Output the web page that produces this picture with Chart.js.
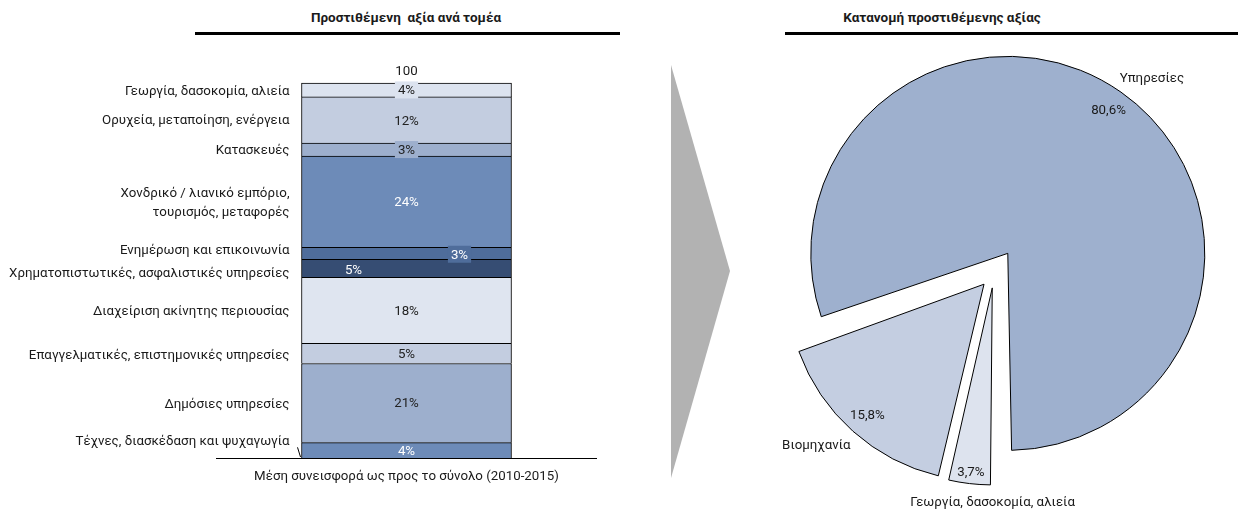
<!DOCTYPE html>
<html>
<head>
<meta charset="utf-8">
<script src="https://cdn.jsdelivr.net/npm/chart.js@4"></script>
<style>
  body { margin: 0; background: #fff; }
  #wrap { position: relative; width: 1249px; height: 522px; overflow: hidden; font-family: Roboto, sans-serif; color: #1a1a1a; }
  .title { position: absolute; top: 9px; font-size: 13.5px; font-weight: bold; text-align: center; white-space: pre; }
  .rule { position: absolute; top: 32px; height: 3px; background: #000; }
  canvas, svg { position: absolute; }
</style>
</head>
<body>
<div id="wrap">
  <div class="title" style="left:256px;width:300px">Προστιθέμενη  αξία ανά τομέα</div>
  <div class="rule" style="left:195px;width:425px"></div>
  <div class="title" style="left:792px;width:300px">Κατανομή προστιθέμενης αξίας</div>
  <div class="rule" style="left:785px;width:453px"></div>
  <canvas id="bars" width="640" height="522" style="left:0;top:0"></canvas>
  <svg width="80" height="430" style="left:660px;top:55px">
    <polygon points="11,10 70,216 11,423" fill="#b2b2b2"/>
  </svg>
  <canvas id="pie" width="489" height="482" style="left:760px;top:40px"></canvas>
</div>
<script>
// left chart: share of each sector in total value added
const sectors = [
  "Γεωργία, δασοκομία, αλιεία",
  "Ορυχεία, μεταποίηση, ενέργεια",
  "Κατασκευές",
  ["Χονδρικό / λιανικό εμπόριο,", "τουρισμός, μεταφορές"],
  "Ενημέρωση και επικοινωνία",
  "Χρηματοπιστωτικές, ασφαλιστικές υπηρεσίες",
  "Διαχείριση ακίνητης περιουσίας",
  "Επαγγελματικές, επιστημονικές υπηρεσίες",
  "Δημόσιες υπηρεσίες",
  "Τέχνες, διασκέδαση και ψυχαγωγία"
];
const shares = [3.7, 12.3, 3.5, 24.3, 3.2, 4.8, 17.6, 5.4, 21.1, 4.1];
const shareLabels = ["4%", "12%", "3%", "24%", "3%", "5%", "18%", "5%", "21%", "4%"];
const totalLabel = "100";
const axisTitle = "Μέση συνεισφορά ως προς το σύνολο (2010-2015)";

// right chart: grouped sectors
const groups = ["Γεωργία, δασοκομία, αλιεία", "Βιομηχανία", "Υπηρεσίες"];
const groupShares = [3.7, 15.8, 80.6];
const groupLabels = ["3,7%", "15,8%", "80,6%"];

// styling
const sectorColors = ["#dce3ef", "#c3cde0", "#9dafcd", "#6d8bb8", "#4f6d9b", "#364d73", "#dfe5f0", "#c3cde0", "#9dafcd", "#6d8bb8"];
const shareTextColors = ["#222", "#222", "#222", "#fff", "#fff", "#fff", "#222", "#222", "#222", "#fff"];
const shareShift = [[0, 0], [0, 1], [0, 0], [0, 0], [53, 1], [-53, 1], [0, 0], [0, 0], [0, 0], [0, 0]];
const shareBox = [true, false, true, false, true, false, false, false, false, false];
const nameShift = [2, 1, 1, 1, -3, 5, 1, 2, 2, -9];
const groupColors = ["#dde3ee", "#c4cee1", "#9eb0ce"];
const groupOffsets = [60, 60, 96];
const pieRadius = 197;
const valueRadius = [0.94, 0.89, 0.89];
const nameRadius = [1.08, 1.18, 1.15];
const groupNameShift = [[25, 2], [-13, -13], [14, 10]];

const FONT = "13.3px Roboto, sans-serif";

const barLabels = {
  id: "barLabels",
  afterDatasetsDraw(chart) {
    const ctx = chart.ctx;
    const area = chart.chartArea;
    ctx.save();
    ctx.strokeStyle = "#000";
    ctx.lineWidth = 1;
    ctx.beginPath();
    ctx.moveTo(area.left, Math.round(area.bottom) + 0.5);
    ctx.lineTo(area.right, Math.round(area.bottom) + 0.5);
    ctx.stroke();

    ctx.font = FONT;
    ctx.textBaseline = "middle";
    let barTop = area.bottom, cx = 0;
    chart.data.datasets.forEach((ds, di) => {
      const bar = chart.getDatasetMeta(di).data[0];
      const i = ds.sector;
      const top = Math.min(bar.y, bar.base);
      const bottom = Math.max(bar.y, bar.base);
      const cy = (top + bottom) / 2;
      const left = bar.x - bar.width / 2;
      barTop = Math.min(barTop, top);
      cx = bar.x;

      // share label inside segment
      const sx = bar.x + shareShift[i][0];
      const sy = cy + shareShift[i][1];
      ctx.textAlign = "center";
      if (shareBox[i]) {
        const w = ctx.measureText(shareLabels[i]).width + 6;
        ctx.fillStyle = sectorColors[i];
        ctx.fillRect(sx - w / 2, sy - 8.5, w, 17);
      }
      ctx.fillStyle = shareTextColors[i];
      ctx.fillText(shareLabels[i], sx, sy + 1);

      // sector name to the left
      ctx.textAlign = "right";
      ctx.fillStyle = "#1a1a1a";
      const lines = Array.isArray(sectors[i]) ? sectors[i] : [sectors[i]];
      const ny = cy + nameShift[i] - (lines.length - 1) * 9.5;
      lines.forEach((t, k) => ctx.fillText(t, left - 12, ny + k * 19));
      if (i === sectors.length - 1) {
        ctx.beginPath();
        ctx.moveTo(left - 4, ny + 6);
        ctx.lineTo(left - 1, bottom - 1);
        ctx.stroke();
      }
    });

    ctx.textAlign = "center";
    ctx.fillStyle = "#1a1a1a";
    ctx.fillText(totalLabel, cx, barTop - 11);
    ctx.fillText(axisTitle, (area.left + area.right) / 2, area.bottom + 19);
    ctx.restore();
  }
};

const barDatasets = sectors.map((s, i) => ({
  label: Array.isArray(s) ? s.join(" ") : s,
  sector: i,
  data: [shares[i]],
  backgroundColor: sectorColors[i],
  borderColor: "#000",
  borderWidth: 1,
  borderSkipped: "bottom",
  barThickness: 210,
  clip: false
})).reverse();

new Chart(document.getElementById("bars"), {
  type: "bar",
  data: { labels: [""], datasets: barDatasets },
  options: {
    responsive: false,
    animation: false,
    layout: { padding: { left: 216, right: 43, top: 83, bottom: 64 } },
    scales: {
      x: { display: false, stacked: true },
      y: { display: false, stacked: true, min: 0, max: 100 }
    },
    plugins: { legend: { display: false }, tooltip: { enabled: false } }
  },
  plugins: [barLabels]
});

// exploded slices: Chart.js grows the radius of an offset arc, keep all at pieRadius
function arcFix(arc) {
  return 1 - Math.sin(Math.min(Math.PI, arc.circumference || 0));
}

const pieLabels = {
  id: "pieLabels",
  beforeDatasetsDraw(chart) {
    chart.getDatasetMeta(0).data.forEach(arc => {
      arc.outerRadius = pieRadius - (arc.options.offset || 0) / 4 * arcFix(arc);
    });
  },
  afterDatasetsDraw(chart) {
    const ctx = chart.ctx;
    const meta = chart.getDatasetMeta(0);
    ctx.save();
    ctx.font = FONT;
    ctx.textAlign = "center";
    ctx.textBaseline = "middle";
    ctx.fillStyle = "#1a1a1a";
    meta.data.forEach((arc, i) => {
      const mid = (arc.startAngle + arc.endAngle) / 2;
      const shift = (arc.options.offset || 0) / 4;
      const cx = arc.x + Math.cos(mid) * shift;
      const cy = arc.y + Math.sin(mid) * shift;
      const r = pieRadius;
      ctx.fillText(groupLabels[i], cx + Math.cos(mid) * r * valueRadius[i], cy + Math.sin(mid) * r * valueRadius[i] + 1);
      ctx.fillText(groups[i],
        cx + Math.cos(mid) * r * nameRadius[i] + groupNameShift[i][0],
        cy + Math.sin(mid) * r * nameRadius[i] + groupNameShift[i][1] + 1);
    });
    ctx.restore();
  }
};

new Chart(document.getElementById("pie"), {
  type: "pie",
  data: {
    labels: groups,
    datasets: [{
      data: groupShares,
      backgroundColor: groupColors,
      borderColor: "#000",
      borderWidth: 1,
      offset: groupOffsets,
      rotation: 180,
      radius: pieRadius
    }]
  },
  options: {
    responsive: false,
    animation: false,
    layout: { padding: { left: 34, right: 55, top: 33, bottom: 49 } },
    plugins: { legend: { display: false }, tooltip: { enabled: false } }
  },
  plugins: [pieLabels]
});
</script>
</body>
</html>
